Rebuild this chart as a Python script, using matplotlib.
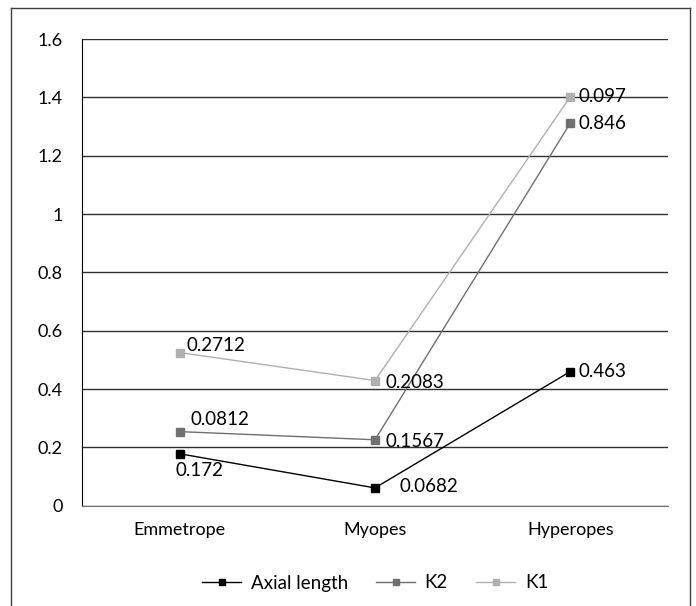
import matplotlib.pyplot as plt
from matplotlib.lines import Line2D
import numpy as np

plt.rcParams['font.family'] = ['Lato', 'DejaVu Sans']

groups = ['Emmetrope', 'Myopes', 'Hyperopes']
axial = [0.178, 0.061, 0.46]
k2 = [0.254, 0.226, 1.312]
k1 = [0.525, 0.429, 1.402]
axial_labels = ['0.172', '0.0682', '0.463']
k2_labels = ['0.0812', '0.1567', '0.846']
k1_labels = ['0.2712', '0.2083', '0.097']
y_ticks = [0, 0.2, 0.4, 0.6, 0.8, 1.0, 1.2, 1.4, 1.6]
y_tick_labels = ['0', '0.2', '0.4', '0.6', '0.8', '1', '1.2', '1.4', '1.6']

fig = plt.figure(figsize=(6.96, 6.06), dpi=100)
ax = fig.add_axes([82 / 696, 1 - 505.7 / 606, 586 / 696, 466.7 / 606])

x = np.arange(len(groups)) + 0.5
series = [
    ('Axial length', axial, axial_labels, 'black'),
    ('K2', k2, k2_labels, '#707070'),
    ('K1', k1, k1_labels, '#b0b0b0'),
]
for name, vals, labs, col in series:
    ax.plot(x, vals, color=col, lw=1, marker='s', ms=6, mec=col, mfc=col, label=name)

# label offsets in pixels from the marker
offsets = {
    'Axial length': [(-4, -17), (25, 1), (8, 0)],
    'K2': [(11, 12), (10, -2), (8, 0)],
    'K1': [(7, 7), (11, -2), (8, 0)],
}
for name, vals, labs, col in series:
    for xi, v, lab, (dx, dy) in zip(x, vals, labs, offsets[name]):
        ax.annotate(lab, (xi, v), xytext=(dx, dy), textcoords='offset pixels',
                    ha='left', va='center', fontsize=13.5, color='black')

ax.set_xlim(0, 3)
ax.set_ylim(0, 1.6)
ax.set_yticks(y_ticks)
ax.set_yticklabels(y_tick_labels)
ax.set_xticks(x)
ax.set_xticklabels(groups)
ax.tick_params(length=0, labelsize=13, pad=12)
ax.tick_params(axis='y', pad=14)
ax.grid(axis='y', color='#303030', lw=1)
ax.set_axisbelow(True)
for s in ['top', 'right']:
    ax.spines[s].set_visible(False)
ax.spines['left'].set_color('black')
ax.spines['bottom'].set_color('#707070')

fig.legend(loc='center', bbox_to_anchor=(375 / 696, 1 - 583 / 606), ncol=3, frameon=False,
           fontsize=13.5, handlelength=2.1, columnspacing=1.5, handletextpad=0.5,
           markerscale=0.8)

# outer frame
fig.add_artist(Line2D([11 / 696, 11 / 696], [0, 1 - 8 / 606], color='#404040', lw=1))
fig.add_artist(Line2D([11 / 696, 690 / 696], [1 - 8 / 606, 1 - 8 / 606], color='#404040', lw=1))
fig.add_artist(Line2D([690 / 696, 690 / 696], [0, 1 - 8 / 606], color='#404040', lw=1))

fig.savefig('out.png', dpi=100)
